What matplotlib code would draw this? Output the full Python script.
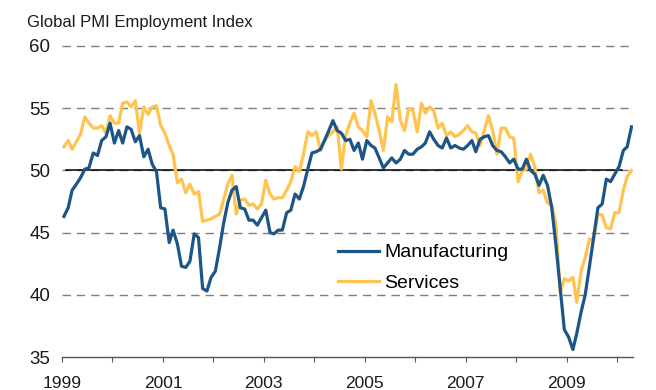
import matplotlib
matplotlib.use("Agg")
import matplotlib.pyplot as plt
import numpy as np
import pandas as pd

# Monthly index values, Jan 1999 - Apr 2010
manufacturing = [
    46.3, 47.0, 48.4, 48.9, 49.4, 50.1, 50.2, 51.4, 51.2, 52.4, 52.7, 53.8,
    52.2, 53.2, 52.2, 53.5, 53.3, 52.3, 52.8, 51.1, 51.7, 50.5, 49.9, 47.0,
    46.9, 44.2, 45.2, 44.1, 42.3, 42.2, 42.7, 44.9, 44.6, 40.5, 40.3, 41.4,
    41.9, 43.8, 45.7, 47.4, 48.4, 48.7, 47.0, 46.9, 46.0, 46.0, 45.6, 46.2,
    46.8, 45.0, 44.9, 45.2, 45.2, 46.6, 46.8, 48.1, 47.7, 48.7, 50.1, 51.4,
    51.5, 51.7, 52.4, 53.2, 54.0, 53.2, 53.0, 52.4, 52.5, 51.6, 52.2, 50.9,
    52.4, 52.0, 51.8, 51.0, 50.2, 50.6, 51.0, 50.6, 50.9, 51.6, 51.3, 51.3,
    51.7, 51.9, 52.2, 53.1, 52.5, 52.0, 51.8, 52.6, 51.8, 52.0, 51.8, 51.7,
    52.0, 52.4, 51.5, 52.5, 52.7, 52.8, 52.0, 51.6, 51.5, 51.1, 50.6, 50.9,
    50.1, 50.1, 50.9, 50.0, 49.7, 48.8, 49.6, 48.8, 47.0, 44.0, 40.5, 37.2,
    36.6, 35.6, 36.9, 38.6, 40.0, 42.3, 44.6, 47.0, 47.3, 49.3, 49.1, 49.7,
    50.3, 51.6, 51.9, 53.5,
]
services = [
    51.9, 52.4, 51.7, 52.3, 52.9, 54.3, 53.8, 53.4, 53.4, 53.6, 53.0, 54.4,
    53.8, 53.8, 55.4, 55.5, 55.1, 55.6, 53.0, 55.1, 54.5, 55.1, 55.2, 53.6,
    53.0, 52.0, 51.3, 49.0, 49.3, 48.2, 48.9, 48.1, 48.3, 45.9, 46.0, 46.1,
    46.3, 46.5, 47.6, 48.9, 49.6, 46.5, 47.6, 47.7, 47.2, 47.3, 46.9, 47.3,
    49.2, 48.1, 47.7, 47.8, 47.8, 48.4, 49.1, 50.3, 49.9, 51.3, 53.1, 52.8,
    53.1, 51.6, 52.4, 52.8, 53.1, 53.5, 50.1, 52.8, 53.8, 54.6, 53.5, 53.2,
    52.7, 55.6, 54.6, 53.2, 51.6, 54.3, 53.9, 56.9, 54.0, 53.2, 55.0, 54.8,
    53.1, 55.4, 54.6, 55.1, 54.8, 53.4, 53.8, 52.8, 53.1, 52.7, 52.9, 53.2,
    53.6, 53.1, 53.0, 52.0, 53.2, 54.4, 53.2, 51.3, 53.4, 53.4, 52.7, 52.6,
    49.1, 50.0, 50.1, 51.3, 50.3, 48.2, 48.4, 47.4, 47.2, 45.7, 40.2, 41.3,
    41.1, 41.4, 39.4, 41.9, 43.0, 44.5, 44.4, 46.5, 46.4, 45.4, 45.3, 46.6,
    46.6, 48.4, 49.5, 50.0,
]
series_labels = ["Manufacturing", "Services"]
y_ticks = [35, 40, 45, 50, 55, 60]
tick_years = list(range(1999, 2011))

dates = pd.date_range("1999-01-01", periods=len(manufacturing), freq="MS") + pd.Timedelta(days=14)

plt.rcParams["font.family"] = ["Liberation Sans", "DejaVu Sans"]

fig = plt.figure(figsize=(6.56, 3.9), dpi=100)
ax = fig.add_axes([62 / 656, 1 - 357 / 390, 571 / 656, 311 / 390])

for v in y_ticks[1:]:
    ax.axhline(v, color="#7f7f7f", lw=1.0, linestyle=(0, (6, 4.3)), clip_on=False, zorder=1)
ax.axhline(50, xmin=0.007, xmax=0.98, color="black", lw=1.1, zorder=2)

ax.plot(dates, manufacturing, color="#1c5586", lw=2.3, label=series_labels[0], zorder=4)
ax.plot(dates, services, color="#ffc34f", lw=2.3, label=series_labels[1], zorder=3)

ax.set_ylim(35, 60)
ax.set_yticks(y_ticks)
ax.set_xlim(pd.Timestamp("1999-01-01"), pd.Timestamp("2010-04-26"))
ax.set_xticks(pd.to_datetime([f"{y}-01-01" for y in tick_years]))
ax.set_xticklabels([str(y) if y % 2 else "" for y in tick_years])

for side in ["left", "right", "top"]:
    ax.spines[side].set_visible(False)
ax.spines["bottom"].set_color("#555555")
ax.spines["bottom"].set_linewidth(1.0)

ax.tick_params(axis="y", length=0, pad=8.5, labelsize=13.5, labelcolor="#1a1a1a")
ax.tick_params(axis="x", length=3.6, width=0.8, color="#555555", pad=10,
               labelsize=12.5, labelcolor="#1a1a1a")

ax.legend(loc="upper left", bbox_to_anchor=(0.483, 0.364), frameon=False,
          fontsize=14, handlelength=2.1, handletextpad=0.3, labelspacing=0.68,
          borderpad=0, borderaxespad=0)

fig.text(27 / 656, 1 - 27 / 390, "Global PMI Employment Index", fontsize=12,
         color="#1a1a1a", va="baseline", ha="left")

fig.savefig("out.png", dpi=100)
